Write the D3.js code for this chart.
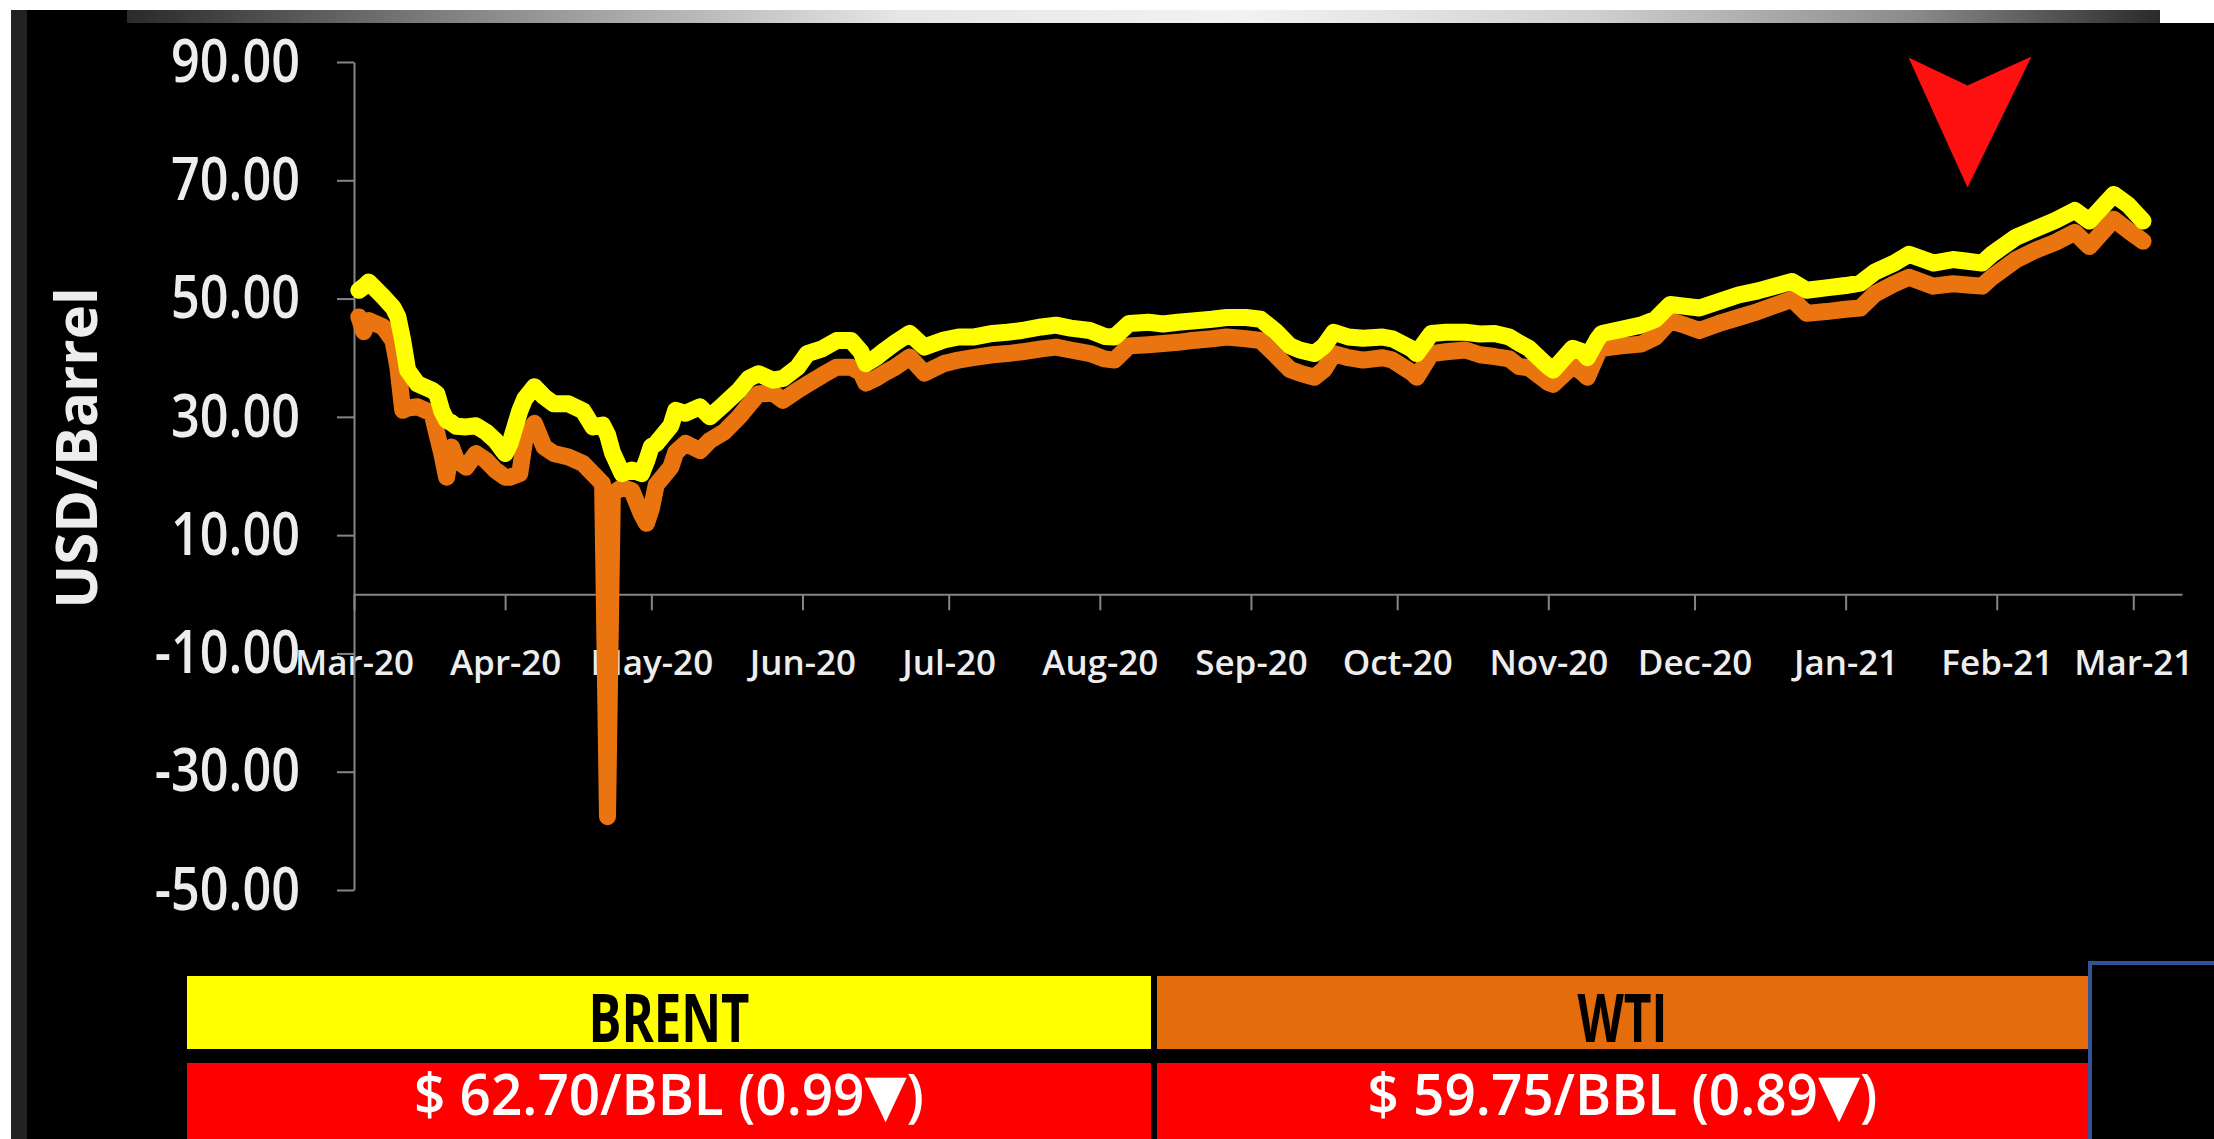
<!DOCTYPE html>
<html><head><meta charset="utf-8">
<script src="https://cdn.jsdelivr.net/npm/d3@7"></script>
<style>
html,body{margin:0;padding:0;background:#000;overflow:hidden;}
svg{display:block;}
</style></head><body>
<svg id="chart" width="2214" height="1139"></svg>
<script>
// ---------------- DATA ----------------
const dates = [
"2020-03-02","2020-03-03","2020-03-04","2020-03-07","2020-03-09","2020-03-10","2020-03-11","2020-03-12","2020-03-14","2020-03-17",
"2020-03-18","2020-03-19","2020-03-20","2020-03-21","2020-03-22","2020-03-24","2020-03-26","2020-03-28","2020-03-30","2020-04-01",
"2020-04-02","2020-04-04","2020-04-05","2020-04-07","2020-04-09","2020-04-11","2020-04-14","2020-04-17","2020-04-19","2020-04-21",
"2020-04-22","2020-04-23","2020-04-25","2020-04-27","2020-04-29","2020-04-30","2020-05-01","2020-05-02","2020-05-05","2020-05-06",
"2020-05-08","2020-05-11","2020-05-13","2020-05-16","2020-05-19","2020-05-21","2020-05-23","2020-05-26","2020-05-28","2020-05-31",
"2020-06-02","2020-06-05","2020-06-08","2020-06-11","2020-06-13","2020-06-14","2020-06-16","2020-06-18","2020-06-20","2020-06-23",
"2020-06-26","2020-06-30","2020-07-03","2020-07-06","2020-07-10","2020-07-13","2020-07-16","2020-07-20","2020-07-23","2020-07-26",
"2020-07-30","2020-08-02","2020-08-04","2020-08-07","2020-08-11","2020-08-14","2020-08-17","2020-08-20","2020-08-24","2020-08-27",
"2020-08-31","2020-09-03","2020-09-06","2020-09-09","2020-09-11","2020-09-14","2020-09-16","2020-09-18","2020-09-21","2020-09-24",
"2020-09-28","2020-09-30","2020-10-04","2020-10-05","2020-10-08","2020-10-11","2020-10-15","2020-10-18","2020-10-21","2020-10-24",
"2020-10-26","2020-10-28","2020-11-01","2020-11-02","2020-11-06","2020-11-08","2020-11-09","2020-11-11","2020-11-12","2020-11-16",
"2020-11-20","2020-11-23","2020-11-26","2020-11-29","2020-12-02","2020-12-06","2020-12-10","2020-12-14","2020-12-18","2020-12-21",
"2020-12-24","2020-12-28","2021-01-01","2021-01-04","2021-01-07","2021-01-11","2021-01-14","2021-01-19","2021-01-23","2021-01-26",
"2021-01-29","2021-01-31","2021-02-05","2021-02-09","2021-02-13","2021-02-17","2021-02-20","2021-02-25","2021-02-28","2021-03-03"
];
const brent = [
51.4,52.0,52.8,50.3,48.5,46.9,42.9,37.9,35.6,34.5,
33.9,31.0,29.4,29.0,28.4,28.3,28.5,27.5,26.0,23.8,
25.5,31.0,33.0,35.1,33.4,32.2,32.2,31.0,28.3,28.6,
27.0,24.0,20.4,21.0,20.4,22.5,25.0,25.5,28.5,31.1,
30.6,31.7,30.0,32.2,34.5,36.5,37.3,36.2,36.5,38.4,
40.7,41.5,42.9,42.9,41.0,39.0,40.0,41.3,42.5,44.1,
41.8,43.0,43.5,43.5,44.1,44.3,44.6,45.2,45.5,45.0,
44.6,43.6,43.5,45.8,46.0,45.7,46.0,46.2,46.5,46.8,
46.8,46.5,44.5,42.0,41.3,40.7,42.0,44.3,43.5,43.3,
43.5,43.2,41.5,40.7,44.1,44.3,44.3,44.0,44.1,43.5,
42.5,41.6,38.5,37.9,41.6,41.0,40.0,43.0,44.1,44.8,
45.5,46.5,49.0,48.7,48.4,49.5,50.6,51.3,52.2,52.9,
51.4,51.8,52.2,52.6,54.5,56.0,57.5,56.0,56.6,56.3,
56.0,57.5,60.4,61.8,63.2,64.9,63.1,67.6,65.8,63.1
];
const wti = [
46.9,44.4,46.3,45.2,42.9,38.4,31.1,31.5,31.7,30.6,
27.2,23.8,19.8,24.9,22.7,21.5,23.8,22.7,21.0,19.8,
19.8,20.4,26.0,28.9,24.9,23.8,23.2,22.1,20.4,18.7,
-37.6,17.0,18.1,17.5,13.5,12.0,14.5,18.5,21.5,24.0,
25.5,24.3,26.0,27.5,30.0,32.0,33.9,34.0,32.8,34.5,
35.5,37.0,38.4,38.4,37.5,35.7,36.5,37.5,38.4,40.1,
37.4,39.0,39.6,40.0,40.5,40.7,41.0,41.5,41.8,41.3,
40.7,39.8,39.6,42.0,42.2,42.4,42.6,42.9,43.2,43.5,
43.2,42.9,40.5,38.0,37.4,36.7,38.0,40.7,40.0,39.6,
40.0,39.6,37.5,36.7,40.7,41.0,41.3,40.5,40.2,39.8,
38.5,38.3,35.8,35.5,38.6,37.5,36.7,40.5,41.6,42.0,
42.3,43.5,46.2,45.5,44.6,45.8,46.8,47.8,49.0,49.9,
47.5,47.8,48.2,48.4,50.8,52.5,53.6,52.1,52.5,52.3,
52.1,53.6,56.6,58.2,59.5,61.2,58.8,63.4,61.5,59.7
];
const yTickValues = [-50, -30, -10, 10, 30, 50, 70, 90];
const xDomain = ["2020-03-01", "2021-03-11"];
const yTitle = "USD/Barrel";
const seriesNames = ["BRENT", "WTI"];
const priceLabels = ["$ 62.70/BBL (0.99\u25BC)", "$ 59.75/BBL (0.89\u25BC)"];
const arrowAnchor = {date: "2021-01-26", value: 68.8};

// ---------------- DRAW ----------------
const W = 2214, H = 1139;
const parse = d3.timeParse("%Y-%m-%d");
const svg = d3.select("#chart");
const defs = svg.append("defs");

svg.append("rect").attr("width", W).attr("height", H).attr("fill", "#000");

// top screenshot frame
const g1 = defs.append("linearGradient").attr("id", "topbar").attr("x1", "0").attr("x2", "1").attr("y1", "0").attr("y2", "0");
[[0, "#2a2a2a"], [0.18, "#8c8c8c"], [0.38, "#e6e6e6"], [0.55, "#f2f2f2"], [0.72, "#d0d0d0"], [0.88, "#8a8a8a"], [1, "#2a2a2a"]]
  .forEach(s => g1.append("stop").attr("offset", s[0]).attr("stop-color", s[1]));
svg.append("rect").attr("x", 0).attr("y", 0).attr("width", W).attr("height", 10).attr("fill", "#fff");
svg.append("rect").attr("x", 127).attr("y", 10).attr("width", 2033).attr("height", 13).attr("fill", "url(#topbar)");
svg.append("rect").attr("x", 2160).attr("y", 10).attr("width", 54).attr("height", 13).attr("fill", "#fff");
svg.append("rect").attr("x", 0).attr("y", 0).attr("width", 11).attr("height", H).attr("fill", "#fff");
svg.append("rect").attr("x", 11).attr("y", 10).attr("width", 16).attr("height", H - 10).attr("fill", "#222");

const x = d3.scaleTime().domain(xDomain.map(parse)).range([354, 2182]);
const y = d3.scaleLinear().domain([-50, 90]).range([890, 62]);

const axisColor = "#858585";
const labelColor = "#ededed";

// X axis
const gx = svg.append("g").attr("transform", `translate(0,${y(0)})`)
  .call(d3.axisBottom(x).ticks(d3.timeMonth.every(1)).tickFormat(d3.timeFormat("%b-%y"))
    .tickSizeInner(16).tickSizeOuter(0).tickPadding(40));
gx.select(".domain").attr("stroke", axisColor).attr("stroke-width", 2);
gx.selectAll(".tick line").attr("stroke", axisColor).attr("stroke-width", 2);
gx.selectAll(".tick text").attr("fill", labelColor)
  .style("font-family", "'Open Sans', 'Noto Sans', sans-serif").style("font-weight", 600).style("font-size", "35px");

// Y axis
const gy = svg.append("g").attr("transform", `translate(354,0)`)
  .call(d3.axisLeft(y).tickValues(yTickValues).tickFormat(d => d.toFixed(2))
    .tickSizeInner(17).tickSizeOuter(0).tickPadding(37));
gy.select(".domain").attr("stroke", axisColor).attr("stroke-width", 2);
gy.selectAll(".tick line").attr("stroke", axisColor).attr("stroke-width", 2);
gy.selectAll(".tick text").attr("fill", labelColor)
  .style("font-family", "'Open Sans', 'Noto Sans', sans-serif").style("font-weight", 600).style("font-size", "60px")
  .attr("x", -54 / 0.84).attr("transform", "scale(0.84,1)");

// Y title
svg.append("text").attr("transform", `translate(97,448) rotate(-90)`)
  .attr("text-anchor", "middle").attr("fill", labelColor)
  .style("font-family", "'Open Sans', 'Noto Sans', sans-serif").style("font-weight", 700).style("font-size", "58px")
  .text(yTitle);

// Lines
const rowsW = dates.map((d, i) => ({date: parse(d), v: wti[i]}));
const rowsB = dates.map((d, i) => ({date: parse(d), v: brent[i]}));
const line = d3.line().x(d => x(d.date)).y(d => y(d.v));
svg.append("path").datum(rowsW).attr("d", line).attr("fill", "none")
  .attr("stroke", "#ea7510").attr("stroke-width", 17).attr("stroke-linejoin", "round").attr("stroke-linecap", "round");
svg.append("path").datum(rowsB).attr("d", line).attr("fill", "none")
  .attr("stroke", "#ffff00").attr("stroke-width", 17).attr("stroke-linejoin", "round").attr("stroke-linecap", "round");

// Red arrow annotation
const ax = x(parse(arrowAnchor.date)), ay = y(arrowAnchor.value);
svg.append("path").attr("transform", `translate(${ax},${ay})`)
  .attr("d", "M-59,-130 L0,-102 L64,-131 L0,0 Z").attr("fill", "#ff1010");

// Legend / price boxes
const boxes = [
  {x0: 187, x1: 1151, color: "#ffff00"},
  {x0: 1157, x1: 2088, color: "#e46c0a"}
];
const nameWidths = [161, 90];
boxes.forEach((b, i) => {
  svg.append("rect").attr("x", b.x0).attr("y", 976).attr("width", b.x1 - b.x0).attr("height", 73).attr("fill", b.color);
  svg.append("rect").attr("x", b.x0).attr("y", 1063).attr("width", b.x1 - b.x0).attr("height", 80).attr("fill", "#ff0000");
  const cx = (b.x0 + b.x1) / 2;
  svg.append("text").attr("x", cx).attr("y", 1042).attr("text-anchor", "middle").attr("fill", "#000")
    .attr("textLength", nameWidths[i]).attr("lengthAdjust", "spacingAndGlyphs")
    .style("font-family", "'Open Sans', 'Noto Sans', sans-serif").style("font-weight", 700).style("font-size", "66px")
    .text(seriesNames[i]);
  svg.append("text").attr("x", cx).attr("y", 1115).attr("text-anchor", "middle").attr("fill", "#fff")
    .attr("textLength", 510).attr("lengthAdjust", "spacingAndGlyphs")
    .style("font-family", "'Open Sans', 'DejaVu Sans', sans-serif").style("font-weight", 600).style("font-size", "58px")
    .text(priceLabels[i]);
});

// Blue-bordered box bottom right
svg.append("rect").attr("x", 2090).attr("y", 963).attr("width", 140).attr("height", 190)
  .attr("fill", "#000").attr("stroke", "#2f5597").attr("stroke-width", 4);
</script>
</body></html>
